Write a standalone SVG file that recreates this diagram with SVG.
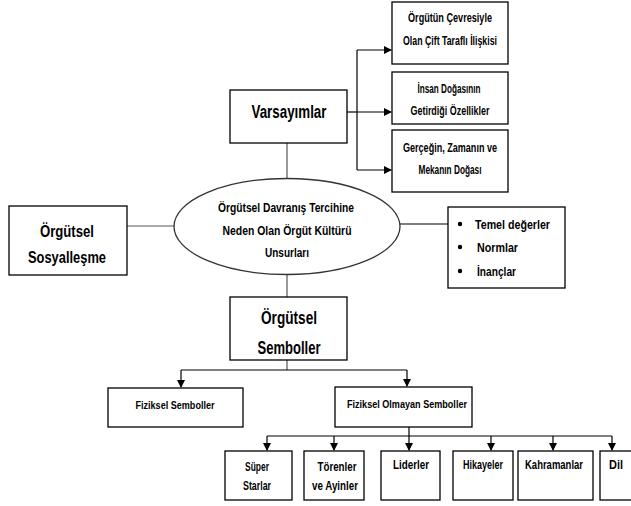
<svg xmlns="http://www.w3.org/2000/svg" width="631" height="506" viewBox="0 0 631 506">
<style>
.box{fill:#fff;stroke:#000;stroke-width:1.3}
.t{font-family:"Liberation Sans",Arial,sans-serif;font-weight:bold;fill:#000;text-anchor:middle}
.s{font-size:12px}
.m{font-size:13px}
.l{font-size:18px}
.c{fill:none;stroke:#000;stroke-width:1.2}
.g{fill:none;stroke:#555;stroke-width:1.2}
</style>
<defs>
<marker id="ah" markerWidth="8" markerHeight="8" refX="7" refY="4" orient="auto" markerUnits="userSpaceOnUse">
<path d="M0,0 L8,4 L0,8 Z" fill="#000"/>
</marker>
</defs>
<g id="connectors">
<path class="c" d="M347,112 H357"/>
<path class="c" d="M357,50 V170"/>
<path class="c" d="M357,50 H391" marker-end="url(#ah)"/>
<path class="c" d="M357,112 H391" marker-end="url(#ah)"/>
<path class="c" d="M357,170 H391" marker-end="url(#ah)"/>
<path class="g" d="M287,143 V179"/>
<path class="g" d="M127,226 H174"/>
<path class="c" d="M400,224 H448"/>
<path class="g" d="M287,274 V297"/>
<path class="g" d="M287,360 V370"/>
<path class="c" d="M181,370 H407"/>
<path class="c" d="M181,370 V387" marker-end="url(#ah)"/>
<path class="c" d="M407,370 V386" marker-end="url(#ah)"/>
<path class="c" d="M409,427 V436"/>
<path class="c" d="M267,436 H612"/>
<path class="c" d="M267,436 V450" marker-end="url(#ah)"/>
<path class="c" d="M334,436 V450" marker-end="url(#ah)"/>
<path class="c" d="M409,436 V450" marker-end="url(#ah)"/>
<path class="c" d="M491,436 V450" marker-end="url(#ah)"/>
<path class="c" d="M553,436 V450" marker-end="url(#ah)"/>
<path class="c" d="M612,436 V450" marker-end="url(#ah)"/>
</g>
<g id="cevre">
<rect class="box" x="392" y="2" width="116" height="62"/>
<text class="t s" x="450" y="22" textLength="84" lengthAdjust="spacingAndGlyphs">Örgütün Çevresiyle</text>
<text class="t s" x="450" y="45" textLength="94" lengthAdjust="spacingAndGlyphs">Olan Çift Taraflı  İlişkisi</text>
</g>
<g id="insan">
<rect class="box" x="392" y="72" width="116" height="52"/>
<text class="t s" x="449" y="93" textLength="63" lengthAdjust="spacingAndGlyphs">İnsan Doğasının</text>
<text class="t s" x="450" y="115" textLength="79" lengthAdjust="spacingAndGlyphs">Getirdiği Özellikler</text>
</g>
<g id="gercek">
<rect class="box" x="392" y="130" width="116" height="62"/>
<text class="t s" x="450" y="152" textLength="94" lengthAdjust="spacingAndGlyphs">Gerçeğin, Zamanın  ve</text>
<text class="t s" x="450" y="174" textLength="63" lengthAdjust="spacingAndGlyphs">Mekanın Doğası</text>
</g>
<g id="varsayimlar">
<rect class="box" x="230" y="90" width="117" height="53"/>
<text class="t l" x="289" y="118" textLength="75" lengthAdjust="spacingAndGlyphs">Varsayımlar</text>
</g>
<g id="merkez">
<ellipse cx="287" cy="226.5" rx="113" ry="48" fill="#fff" stroke="#333" stroke-width="1.3"/>
<text class="t m" x="286" y="212" textLength="136" lengthAdjust="spacingAndGlyphs">Örgütsel Davranış Tercihine</text>
<text class="t m" x="287" y="235" textLength="129" lengthAdjust="spacingAndGlyphs">Neden Olan Örgüt Kültürü</text>
<text class="t m" x="287" y="257" textLength="44" lengthAdjust="spacingAndGlyphs">Unsurları</text>
</g>
<g id="sosyallesme">
<rect class="box" x="9" y="206" width="118" height="69"/>
<text class="t" style="font-size:17px" x="67" y="237" textLength="54" lengthAdjust="spacingAndGlyphs">Örgütsel</text>
<text class="t" style="font-size:17px" x="67" y="263" textLength="78" lengthAdjust="spacingAndGlyphs">Sosyalleşme</text>
</g>
<g id="degerler">
<rect class="box" x="448" y="207" width="117" height="81"/>
<circle cx="460" cy="224" r="2.2"/>
<circle cx="460" cy="247" r="2.2"/>
<circle cx="460" cy="271" r="2.2"/>
<text class="t m" style="text-anchor:start" x="475" y="229" textLength="75" lengthAdjust="spacingAndGlyphs">Temel değerler</text>
<text class="t m" style="text-anchor:start" x="477" y="252" textLength="41" lengthAdjust="spacingAndGlyphs">Normlar</text>
<text class="t m" style="text-anchor:start" x="477" y="276" textLength="39" lengthAdjust="spacingAndGlyphs">İnançlar</text>
</g>
<g id="semboller">
<rect class="box" x="230" y="297" width="117" height="63"/>
<text class="t l" x="289" y="324" textLength="56" lengthAdjust="spacingAndGlyphs">Örgütsel</text>
<text class="t l" x="289" y="354" textLength="63" lengthAdjust="spacingAndGlyphs">Semboller</text>
</g>
<g id="fiziksel">
<rect class="box" x="108" y="388" width="135" height="39"/>
<text class="t" style="font-size:11px" x="175" y="409" textLength="79" lengthAdjust="spacingAndGlyphs">Fiziksel Semboller</text>
</g>
<g id="fizikselolmayan">
<rect class="box" x="335" y="387" width="137" height="40"/>
<text class="t" style="font-size:11px" x="407" y="408" textLength="120" lengthAdjust="spacingAndGlyphs">Fiziksel Olmayan  Semboller</text>
</g>
<g id="super">
<rect class="box" x="225" y="451" width="67" height="49"/>
<text class="t s" x="257" y="471" textLength="24" lengthAdjust="spacingAndGlyphs">Süper</text>
<text class="t s" x="257" y="490" textLength="28" lengthAdjust="spacingAndGlyphs">Starlar</text>
</g>
<g id="torenler">
<rect class="box" x="304" y="451" width="60" height="49"/>
<text class="t s" x="337" y="471" textLength="39" lengthAdjust="spacingAndGlyphs">Törenler</text>
<text class="t s" x="335" y="490" textLength="46" lengthAdjust="spacingAndGlyphs">ve Ayinler</text>
</g>
<g id="liderler">
<rect class="box" x="381" y="451" width="59" height="49"/>
<text class="t s" x="411" y="469" textLength="36" lengthAdjust="spacingAndGlyphs">Liderler</text>
</g>
<g id="hikayeler">
<rect class="box" x="453" y="451" width="60" height="49"/>
<text class="t s" x="483" y="469" textLength="40" lengthAdjust="spacingAndGlyphs">Hikayeler</text>
</g>
<g id="kahramanlar">
<rect class="box" x="518" y="451" width="75" height="49"/>
<text class="t s" x="554" y="469" textLength="58" lengthAdjust="spacingAndGlyphs">Kahramanlar</text>
</g>
<g id="dil">
<rect class="box" x="600" y="451" width="45" height="49"/>
<text class="t s" x="616" y="469" textLength="14" lengthAdjust="spacingAndGlyphs">Dil</text>
</g>
</svg>
